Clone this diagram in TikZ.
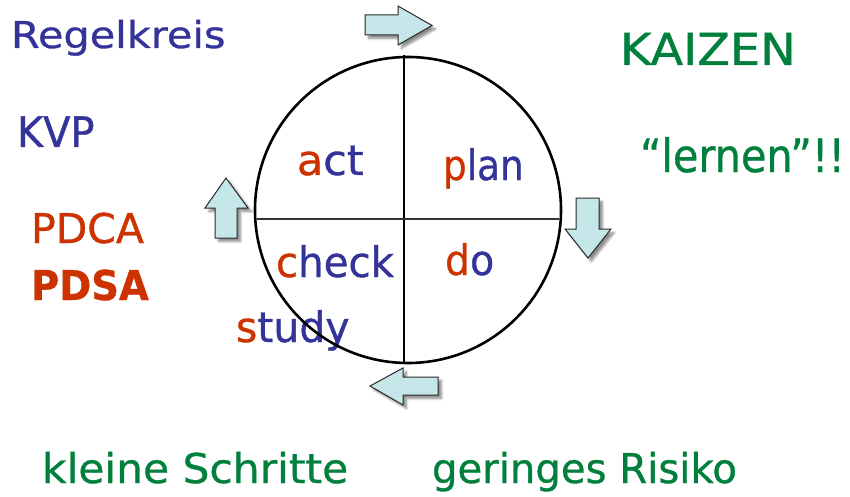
\documentclass[tikz,border=0pt]{standalone}
\usepackage{fontspec}
\usepackage{graphicx}
\setmainfont{DejaVu Sans}[FakeBold=0.8]
\usetikzlibrary{shadows.blur}
\definecolor{cblue}{RGB}{51,51,153}
\definecolor{cred}{RGB}{204,51,0}
\definecolor{cgreen}{RGB}{0,128,60}
\definecolor{cfill}{RGB}{198,231,233}
\definecolor{cedge}{RGB}{40,40,40}
\newcommand{\mytxt}[3]{\scalebox{#2}[1]{\fontsize{#1}{#1}\selectfont #3}}
\begin{document}
\begin{tikzpicture}[x=1pt,y=-1pt,
  txt/.style={anchor=base west, inner sep=0pt, outer sep=0pt},
  blockarrow/.style={fill=cfill, draw=cedge, line width=1pt, line join=miter,
    blur shadow={shadow xshift=3.5pt, shadow yshift=-3.5pt, shadow opacity=45, shadow blur steps=6}}]
\useasboundingbox (0,0) rectangle (850,497);
% texts
\node[txt, text=cblue] (regel) at (11,48) {\mytxt{37}{1.12}{Regelkreis}};
\node[txt, text=cblue] (kvp) at (17,147) {\mytxt{42}{0.95}{KVP}};
\node[txt, text=cred] (pdca) at (31,243) {\mytxt{41}{1.0}{PDCA}};
\node[txt, text=cred] (pdsa) at (31,300) {\mytxt{41}{0.94}{\bfseries PDSA}};
\node[txt, text=cgreen] (kaizen) at (620,65) {\mytxt{44}{1.085}{KAIZEN}};
\node[txt, text=cgreen] (lernen) at (640,172) {\mytxt{46}{0.9}{“lernen”!!}};
\node[txt] (act) at (297,175) {\mytxt{42}{1.02}{\textcolor{cred}{a}\textcolor{cblue}{ct}}};
\node[txt] (plan) at (443,180) {\mytxt{42}{0.89}{\textcolor{cred}{p}\textcolor{cblue}{lan}}};
\node[txt] (check) at (276,277) {\mytxt{42}{0.96}{\textcolor{cred}{c}\textcolor{cblue}{heck}}};
\node[txt] (do) at (445,275) {\mytxt{42}{0.94}{\textcolor{cred}{d}\textcolor{cblue}{o}}};
\node[txt] (study) at (236,342) {\mytxt{42}{0.975}{\textcolor{cred}{s}\textcolor{cblue}{tudy}}};
\node[txt, text=cgreen] (klein) at (42,483) {\mytxt{41}{1.034}{kleine Schritte}};
\node[txt, text=cgreen] (gering) at (432,483) {\mytxt{41}{0.98}{geringes Risiko}};
% circle and cross
\coordinate (ctr) at (408,210);
\draw[line width=2.6pt] (ctr) circle[radius=153];
\coordinate (vt) at (404,55);
\coordinate (vb) at (404,363);
\coordinate (hl) at (257,219);
\coordinate (hr) at (559,219);
\draw[line width=2.2pt] (vt) -- (vb);
\draw[line width=1.6pt, black!80] (hl) -- (hr);
% block arrows
\draw[blockarrow] (365,15) -- (398,15) -- (398,6) -- (432,25.5) -- (398,45) -- (398,35) -- (365,35) -- cycle;
\draw[blockarrow] (215,238) -- (215,208) -- (205,208) -- (226,178) -- (248,208) -- (237,208) -- (237,238) -- cycle;
\draw[blockarrow] (576,198) -- (599,198) -- (599,229) -- (611,229) -- (588,258) -- (565,229) -- (576,229) -- cycle;
\draw[blockarrow] (438,377) -- (403,377) -- (403,368) -- (370,386) -- (403,405) -- (403,395) -- (438,395) -- cycle;
\end{tikzpicture}
\end{document}
